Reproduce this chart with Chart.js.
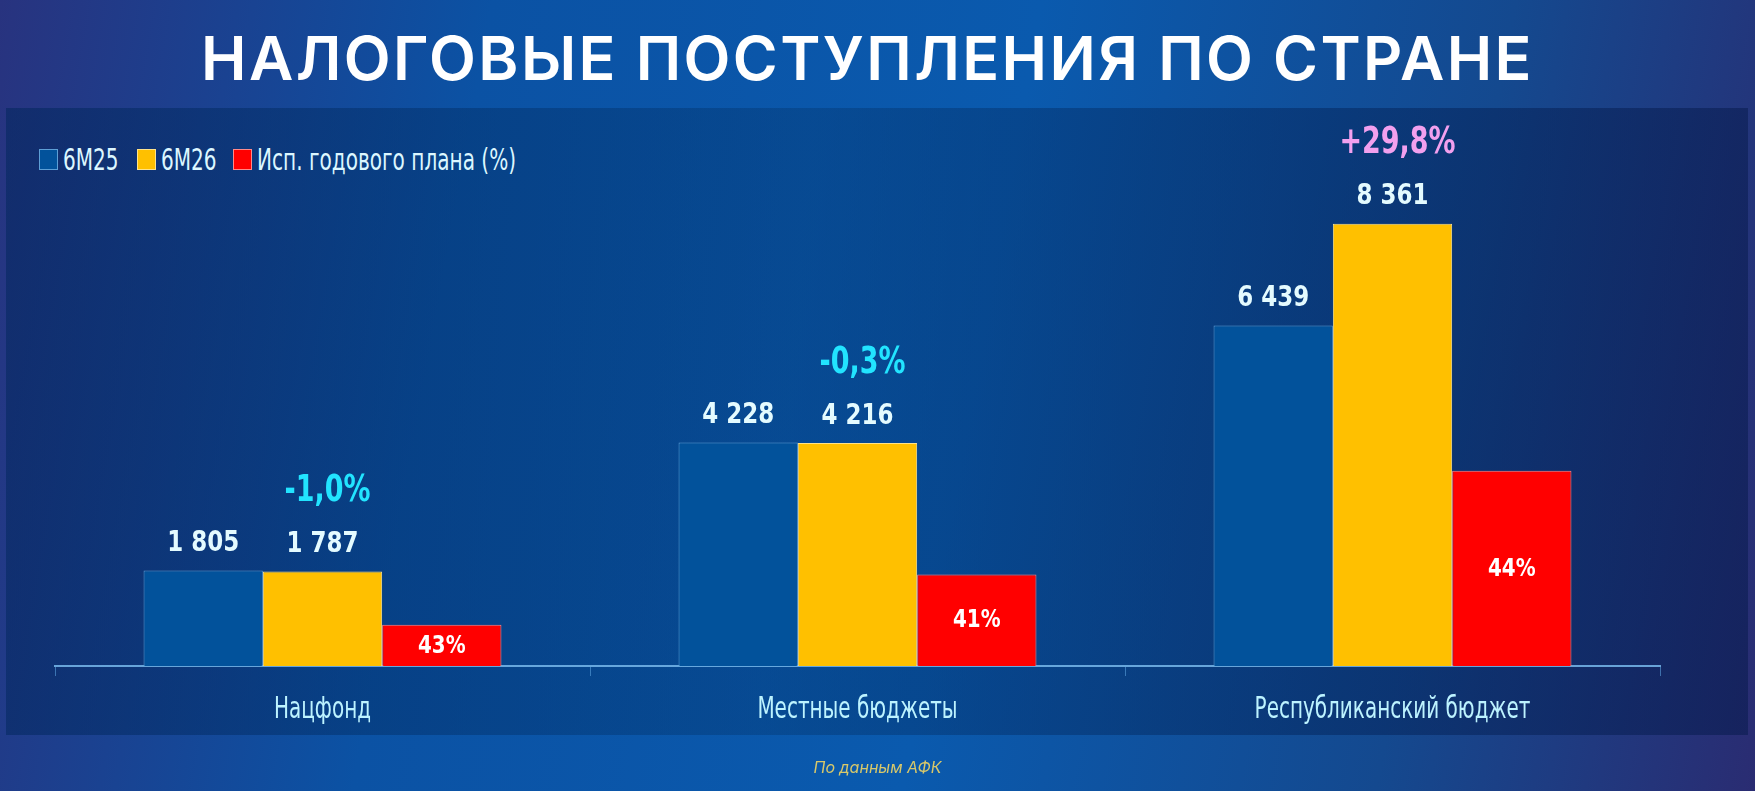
<!DOCTYPE html>
<html lang="ru">
<head>
<meta charset="utf-8">
<title>Налоговые поступления по стране</title>
<script src="https://cdn.jsdelivr.net/npm/chart.js@4.4.1/dist/chart.umd.min.js"></script>
<style>
  html, body { margin: 0; padding: 0; }
  body {
    width: 1755px; height: 791px; overflow: hidden; position: relative;
    background: linear-gradient(100deg, #28337f 0%, #0b52a4 26%, #0a5aae 55%, #14498f 80%, #2a2c72 100%);
    font-family: "DejaVu Sans Condensed", "DejaVu Sans", sans-serif;
  }
  #title {
    position: absolute; left: -10px; top: 24px; width: 1755px; text-align: center;
    color: #fff; font-family: "Inter", "Open Sans", sans-serif; font-weight: 600;
    font-size: 61px; line-height: 68px; letter-spacing: 2.4px; white-space: nowrap;
  }
  #panel {
    position: absolute; left: 6px; top: 108px; width: 1742px; height: 627px;
    background: linear-gradient(95deg, rgba(2,38,92,0.55) 0%, rgba(3,58,118,0.45) 45%, rgba(4,40,96,0.55) 75%, rgba(10,28,80,0.6) 100%);
  }
  .box { position: absolute; top: 149px; width: 17px; height: 19px; border: 1px solid; }
  .lg {
    position: absolute; top: 142px; height: 34px; line-height: 34px; color: #dcf7ff;
    font-size: 31px; white-space: nowrap; transform: scaleX(0.72); transform-origin: 0 50%;
  }
  #chartBox { position: absolute; left: 0; top: 0; width: 1755px; height: 791px; }
  #source {
    position: absolute; left: 0; top: 757px; width: 1755px; text-align: center;
    font-family: "Inter", "Open Sans", sans-serif; font-style: italic; font-size: 16px; color: #d8c86a;
  }
</style>
</head>
<body>
<div id="title">НАЛОГОВЫЕ ПОСТУПЛЕНИЯ ПО СТРАНЕ</div>
<div id="panel"></div>
<div class="box" style="left:39px;background:#02529b;border-color:#5d9fd6"></div>
<div class="lg" style="left:63px">6М25</div>
<div class="box" style="left:137px;background:#ffc000;border-color:#ffe38a"></div>
<div class="lg" style="left:161px">6М26</div>
<div class="box" style="left:233px;background:#ff0000;border-color:#ff8a8a"></div>
<div class="lg" style="left:257px">Исп. годового плана (%)</div>
<div id="chartBox"><canvas id="chart" width="1755" height="791"></canvas></div>
<div id="source">По данным АФК</div>

<script>
// данные (млрд тенге)
const categories = ["Нацфонд", "Местные бюджеты", "Республиканский бюджет"];
const seriesNames = ["6М25", "6М26", "Исп. годового плана (%)"];
const prev6m = [1805, 4228, 6439];
const curr6m = [1787, 4216, 8361];
const planExec = [780, 1730, 3690];   // высота красного столбца
const planPct = [43, 41, 44];
const growth = [-1.0, -0.3, 29.8];

const condensed = '"DejaVu Sans Condensed", "DejaVu Sans", sans-serif';

function fmtNum(n) {
    return String(n).replace(/\B(?=(\d{3})+(?!\d))/g, " ");
}
function fmtGrowth(g) {
    return (g > 0 ? "+" : "") + g.toFixed(1).replace(".", ",") + "%";
}
// шрифт шире оригинала, поэтому сжимаем по горизонтали
function narrowText(ctx, text, x, y, sx) {
    ctx.save();
    ctx.translate(x, y);
    ctx.scale(sx, 1);
    ctx.fillText(text, 0, 0);
    ctx.restore();
}

const barLabels = {
    id: "barLabels",
    afterDatasetsDraw(chart) {
        const ctx = chart.ctx;
        const mA = chart.getDatasetMeta(0), mB = chart.getDatasetMeta(1), mC = chart.getDatasetMeta(2);
        const xs = chart.scales.x;
        ctx.save();
        ctx.textAlign = "center";
        ctx.textBaseline = "middle";
        categories.forEach((c, i) => {
            const a = mA.data[i], b = mB.data[i], r = mC.data[i];
            ctx.font = "bold 29px " + condensed;
            ctx.fillStyle = "#e4fbff";
            narrowText(ctx, fmtNum(prev6m[i]), a.x, a.y - 27, 0.88);
            narrowText(ctx, fmtNum(curr6m[i]), b.x, b.y - 27, 0.88);

            ctx.font = "bold 24px " + condensed;
            ctx.fillStyle = "#ffffff";
            narrowText(ctx, planPct[i] + "%", r.x, (r.y + r.base) / 2 + 1, 0.92);

            ctx.font = "bold 37px " + condensed;
            ctx.fillStyle = growth[i] < 0 ? "#22e4ff" : "#f2a0ee";
            narrowText(ctx, fmtGrowth(growth[i]), b.x + 5, b.y - 80, 0.81);

            // подписи категорий под осью
            ctx.font = "30px " + condensed;
            ctx.fillStyle = "#bdf3ff";
            narrowText(ctx, c, xs.getPixelForValue(i), xs.top + 44, 0.74);
        });
        ctx.restore();
    }
};

new Chart(document.getElementById("chart"), {
    type: "bar",
    data: {
        labels: categories,
        datasets: [
            { label: seriesNames[0], data: prev6m, backgroundColor: "#02529b", borderColor: "#5d9fd6", borderWidth: 1 },
            { label: seriesNames[1], data: curr6m, backgroundColor: "#ffc000", borderColor: "#ffe38a", borderWidth: 1 },
            { label: seriesNames[2], data: planExec, backgroundColor: "#ff0000", borderColor: "#ff8a8a", borderWidth: 1 }
        ]
    },
    options: {
        responsive: false,
        animation: false,
        layout: { padding: { top: 190, left: 55, right: 95, bottom: 115 } },
        datasets: { bar: { categoryPercentage: 0.669, barPercentage: 1.0 } },
        plugins: {
            legend: { display: false },
            title: { display: false },
            tooltip: { enabled: false }
        },
        scales: {
            x: {
                grid: { display: true, drawOnChartArea: false, drawTicks: true, tickLength: 10, color: "rgba(90,160,220,0.6)" },
                border: { display: true, color: "rgba(120,185,235,0.85)", width: 2 },
                ticks: { display: false }
            },
            y: { display: false, min: 0, max: 9000 }
        }
    },
    plugins: [barLabels]
});
</script>
</body>
</html>
